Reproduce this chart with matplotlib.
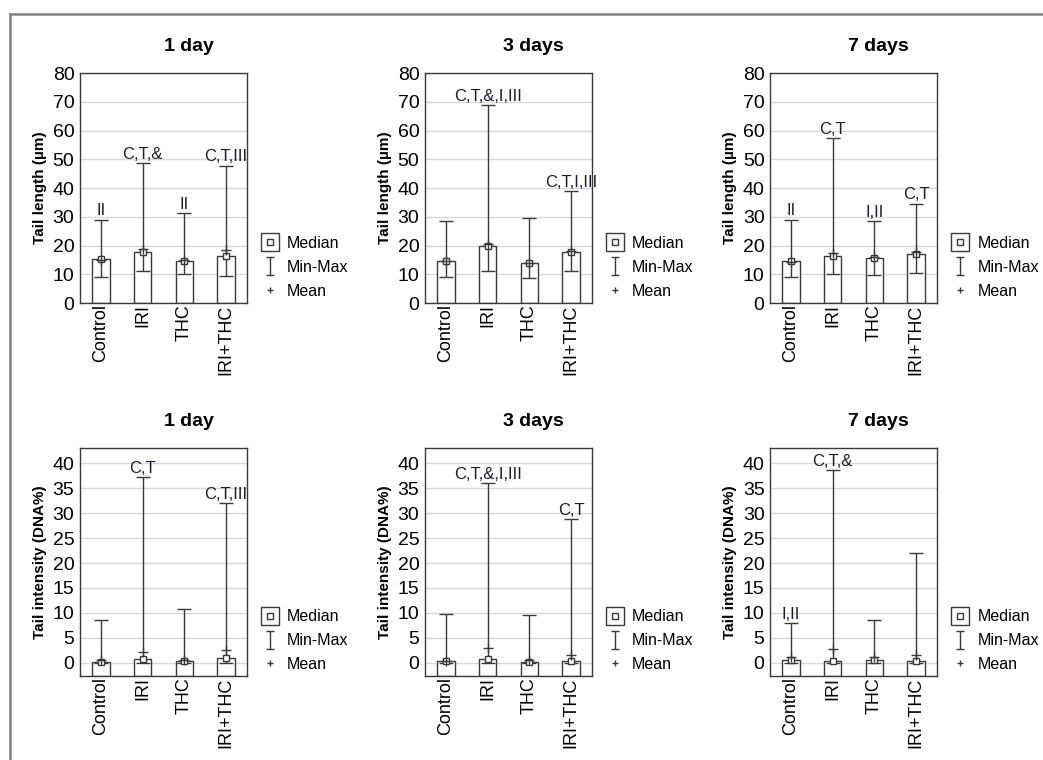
import matplotlib
matplotlib.use("Agg")
import matplotlib.pyplot as plt
from matplotlib.lines import Line2D
from matplotlib.path import Path

plt.rcParams['font.family'] = ['Liberation Sans', 'DejaVu Sans']

groups = ["Control", "IRI", "THC", "IRI+THC"]
days = ["1 day", "3 days", "7 days"]

# tail length (um), one row per day
length_median = [[15.2, 17.8, 14.7, 16.5],
                 [14.6, 20.0, 14.0, 17.8],
                 [14.6, 16.5, 15.8, 17.2]]
length_min = [[9.0, 11.0, 10.0, 9.5],
              [9.0, 11.0, 8.8, 11.0],
              [9.0, 10.0, 9.7, 10.3]]
length_max = [[29.0, 48.7, 31.3, 47.8],
              [28.7, 68.8, 29.7, 38.8],
              [29.0, 57.5, 28.6, 34.6]]
length_mean = [[15.0, 18.8, 15.0, 18.3],
               [14.5, 20.6, 14.0, 18.2],
               [14.4, 17.5, 16.0, 17.8]]
length_labels = [["II", "C,T,&", "II", "C,T,III"],
                 ["", "C,T,&,I,III", "", "C,T,I,III"],
                 ["II", "C,T", "I,II", "C,T"]]

# tail intensity (DNA%)
intensity_median = [[0.1, 0.7, 0.3, 1.0],
                    [0.3, 0.8, 0.1, 0.3],
                    [0.6, 0.4, 0.6, 0.3]]
intensity_min = [[0.0, 0.0, 0.0, 0.0],
                 [0.0, 0.0, 0.0, 0.0],
                 [0.0, 0.0, 0.0, 0.0]]
intensity_max = [[8.6, 37.3, 10.7, 32.0],
                 [9.8, 36.0, 9.6, 28.8],
                 [8.0, 38.7, 8.5, 22.0]]
intensity_mean = [[0.5, 2.2, 0.6, 2.5],
                  [0.4, 3.0, 0.6, 1.6],
                  [1.2, 2.7, 1.1, 1.6]]
intensity_labels = [["", "C,T", "", "C,T,III"],
                    ["", "C,T,&,I,III", "", "C,T"],
                    ["I,II", "C,T,&", "", ""]]

EDGE = "#3a3a3a"
GRID = "#d8d8d8"

# I-shaped marker for the Min-Max legend entry
minmax_marker = Path([(-0.4, 1), (0.4, 1), (0, 1), (0, -1), (-0.4, -1), (0.4, -1)],
                     [Path.MOVETO, Path.LINETO, Path.MOVETO, Path.LINETO,
                      Path.MOVETO, Path.LINETO])


def draw_panel(ax, med, mn, mx, mean, labels, ylim, yticks, ylabel, title):
    x = range(len(groups))
    bottom = ylim[0]
    ax.bar(x, [m - bottom for m in med], bottom=bottom, width=0.42,
           color="white", edgecolor=EDGE, linewidth=1.0, zorder=2)
    yerr = [[m - lo for m, lo in zip(med, mn)], [hi - m for m, hi in zip(med, mx)]]
    ax.errorbar(x, med, yerr=yerr, fmt="none", ecolor=EDGE, elinewidth=1.0,
                capsize=5, capthick=1.0, zorder=3)
    ax.plot(x, med, "s", ms=5, mfc="white", mec=EDGE, mew=1.0, ls="none", zorder=4)
    ax.plot(x, mean, "+", ms=7, color=EDGE, mew=1.0, ls="none", zorder=4)
    for xi, hi, lab in zip(x, mx, labels):
        if lab:
            ax.text(xi, hi + 0.005 * (ylim[1] - ylim[0]), lab, ha="center",
                    va="bottom", fontsize=12, color="#1c1c30", zorder=5)
    ax.set_xlim(-0.5, 3.5)
    ax.set_ylim(*ylim)
    ax.set_yticks(yticks)
    ax.set_xticks(list(x))
    ax.set_xticklabels(groups, rotation=90, fontsize=13)
    ax.tick_params(axis="y", length=0, labelsize=14, pad=4)
    ax.tick_params(axis="x", length=0, pad=1)
    ax.grid(axis="y", color=GRID, linewidth=1.0, zorder=0)
    ax.set_axisbelow(True)
    for s in ax.spines.values():
        s.set_color(EDGE)
        s.set_linewidth(1.0)
    ax.set_ylabel(ylabel, fontsize=11, fontweight="bold", labelpad=4)
    ax.set_title(title, fontsize=14, fontweight="bold", pad=16, x=0.65)

    handles = [
        (Line2D([], [], marker="s", ms=13, mfc="white", mec=EDGE, mew=1.0, ls="none"),
         Line2D([], [], marker="s", ms=4, mfc="white", mec=EDGE, mew=1.0, ls="none")),
        Line2D([], [], marker=minmax_marker, ms=13, color=EDGE, mew=1.0, ls="none"),
        Line2D([], [], marker="+", ms=5, color=EDGE, mew=1.0, ls="none"),
    ]
    ax.legend(handles, ["Median", "Min-Max", "Mean"], loc="center left",
              bbox_to_anchor=(1.04, 0.155), frameon=False, fontsize=11.5,
              handlelength=1.2, handletextpad=0.5, labelspacing=0.55,
              borderaxespad=0)


fig = plt.figure(figsize=(10.43, 7.6), dpi=100)

lefts = [0.0767, 0.4075, 0.7383]
for i in range(3):
    ax = fig.add_axes([lefts[i], 0.6013, 0.1601, 0.3026])
    draw_panel(ax, length_median[i], length_min[i], length_max[i], length_mean[i],
               length_labels[i], (0, 80), range(0, 81, 10), "Tail length (µm)", days[i])
    ax = fig.add_axes([lefts[i], 0.1105, 0.1601, 0.300])
    draw_panel(ax, intensity_median[i], intensity_min[i], intensity_max[i],
               intensity_mean[i], intensity_labels[i], (-2.7, 43.1), range(0, 41, 5),
               "Tail intensity (DNA%)", days[i])

# gray frame on the top and left edges
fig.add_artist(Line2D([10 / 1043, 1.0], [1 - 14 / 760, 1 - 14 / 760],
                      transform=fig.transFigure, color="#808080", lw=1.8))
fig.add_artist(Line2D([10 / 1043, 10 / 1043], [0.0, 1 - 14 / 760],
                      transform=fig.transFigure, color="#808080", lw=1.8))

fig.savefig("out.png", dpi=100)
